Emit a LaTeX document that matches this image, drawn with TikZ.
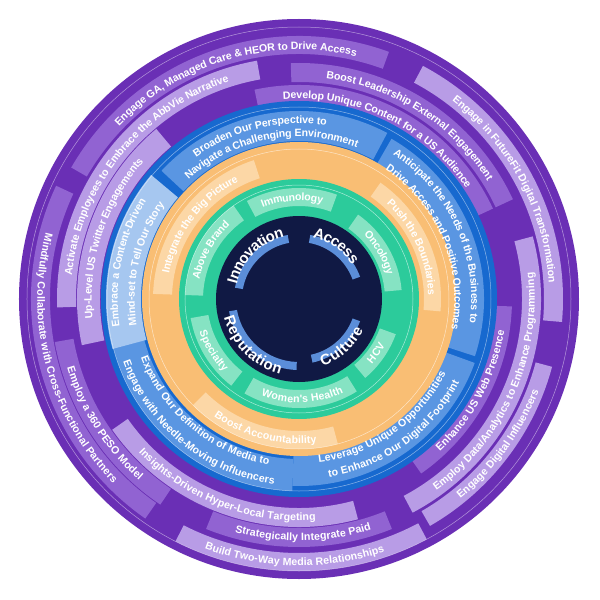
\documentclass[tikz,border=0pt]{standalone}
\usepackage{fontspec}
\newfontfamily\labf{Liberation Sans}
\usetikzlibrary{decorations.text}
\definecolor{pDark}{HTML}{6A2FB5}
\definecolor{pMid}{HTML}{9163D2}
\definecolor{pLight}{HTML}{B89CE6}
\definecolor{bDark}{HTML}{1769CF}
\definecolor{bMid}{HTML}{5A96E2}
\definecolor{bLight}{HTML}{A6C7F0}
\definecolor{oBase}{HTML}{F9BE74}
\definecolor{oLight}{HTML}{FCD7A6}
\definecolor{tBase}{HTML}{2CCB9B}
\definecolor{tLight}{HTML}{86E3C3}
\definecolor{navy}{HTML}{101944}
\definecolor{iBlue}{HTML}{5B8ED9}
\newcommand\bandarc[5]{\fill[#5] (#3:#1pt) arc[start angle=#3,end angle=#4,radius=#1pt] -- (#4:#2pt) arc[start angle=#4,end angle=#3,radius=#2pt] -- cycle;}
\newcommand\cwt[4]{\path[decorate,decoration={text along path,text align=center,raise=-3.7pt,text={|\labf\bfseries\fontsize{10.6}{10.6}\selectfont\color{white}|#4}}] ({#2+#3}:#1pt) arc[start angle={#2+#3},end angle={#2-#3},radius=#1pt];}
\newcommand\ccwt[4]{\path[decorate,decoration={text along path,text align=center,raise=-3.7pt,text={|\labf\bfseries\fontsize{10.6}{10.6}\selectfont\color{white}|#4}}] ({#2-#3}:#1pt) arc[start angle={#2-#3},end angle={#2+#3},radius=#1pt];}
\newcommand\cwbig[4]{\path[decorate,decoration={text along path,text align=center,raise=-5.2pt,text={|\labf\bfseries\fontsize{15}{15}\selectfont\color{white}|#4}}] ({#2+#3}:#1pt) arc[start angle={#2+#3},end angle={#2-#3},radius=#1pt];}
\newcommand\ccwbig[4]{\path[decorate,decoration={text along path,text align=center,raise=-5.2pt,text={|\labf\bfseries\fontsize{15}{15}\selectfont\color{white}|#4}}] ({#2-#3}:#1pt) arc[start angle={#2-#3},end angle={#2+#3},radius=#1pt];}
\begin{document}
\begin{tikzpicture}
\useasboundingbox[fill=white] (-299pt,-301pt) rectangle (301pt,299pt);
\fill[pDark] (0,0) circle[radius=280pt];
\bandarc{245}{263}{70}{150}{pMid}
\bandarc{217}{236}{25}{92}{pMid}
\bandarc{245}{264}{-5}{62}{pLight}
\bandarc{196}{214}{25}{102}{pMid}
\bandarc{223}{242}{100}{182}{pLight}
\bandarc{199}{222}{130}{192}{pLight}
\bandarc{249}{268}{155}{235}{pMid}
\bandarc{229}{248}{190}{236}{pMid}
\bandarc{209}{228}{215}{285}{pLight}
\bandarc{229}{248}{248}{292}{pMid}
\bandarc{254}{272}{243}{298}{pLight}
\bandarc{196}{213}{305}{358}{pMid}
\bandarc{223}{242}{298}{375}{pLight}
\bandarc{245}{262}{300}{345}{pLight}
\draw[white,opacity=.5,line width=.5pt] (0,0) circle[radius=272pt];
\fill[bDark] (0,0) circle[radius=198pt];
\bandarc{158}{188}{62}{137}{bMid}
\bandarc{151}{185}{-18}{60}{bMid}
\bandarc{153}{187}{268}{340}{bMid}
\bandarc{160}{192}{192}{268}{bMid}
\bandarc{158}{193}{140}{195}{bLight}
\draw[white,opacity=.5,line width=.5pt] (0,0) circle[radius=192pt];
\fill[oBase] (0,0) circle[radius=157pt];
\bandarc{127}{146}{108}{178}{oLight}
\bandarc{125}{142}{-5}{55}{oLight}
\bandarc{132}{150}{225}{285}{oLight}
\draw[white,opacity=.6,line width=.5pt] (0,0) circle[radius=150pt];
\fill[tBase] (0,0) circle[radius=120pt];
\bandarc{93}{111}{70}{118}{tLight}
\bandarc{96}{114}{125}{178}{tLight}
\bandarc{86}{103}{5}{55}{tLight}
\bandarc{86}{103}{310}{340}{tLight}
\bandarc{91}{109}{240}{302}{tLight}
\bandarc{92}{110}{190}{232}{tLight}
\draw[white,opacity=.6,line width=.5pt] (0,0) circle[radius=114pt];
\fill[navy] (0,0) circle[radius=83pt];
\bandarc{57}{65}{100}{170}{iBlue}
\bandarc{57}{65}{20}{80}{iBlue}
\bandarc{63}{71}{190}{268}{iBlue}
\bandarc{57}{65}{282}{340}{iBlue}
\cwt{253}{106.5}{42}{Engage GA, Managed Care {\&} HEOR to Drive Access}
\cwt{226}{57.5}{38}{Boost Leadership External Engagement}
\cwt{254}{28}{37}{Engage in FutureFit Digital Transformation}
\cwt{204}{64}{40}{Develop Unique Content for a US Audience}
\cwt{232}{141}{42}{Activate Employees to Embrace the AbbVie Narrative}
\cwt{211}{162}{32}{Up-Level US Twitter Engagements}
\ccwt{258}{195}{43}{Mindfully Collaborate with Cross-Functional Partners}
\ccwt{238}{212.5}{22}{Employ a 360 PESO Model}
\ccwt{218}{249}{35}{Insights-Driven Hyper-Local Targeting}
\ccwt{238}{271}{24}{Strategically Integrate Paid}
\ccwt{263}{269}{26}{Build Two-Way Media Relationships}
\ccwt{204}{332}{24}{Enhance US Web Presence}
\ccwt{232}{336}{38}{Employ Data/Analytics to Enhance Programming}
\ccwt{253}{324}{22}{Engage Digital Influencers}
\cwt{179}{103.5}{32}{Broaden Our Perspective to}
\cwt{166}{101}{40}{Navigate a Challenging Environment}
\cwt{176}{24.5}{46}{Anticipate the Needs of the Business to}
\cwt{159}{22.5}{47}{Drive Access and Positive Outcomes}
\ccwt{161}{305}{36}{Leverage Unique Opportunities}
\ccwt{177}{306}{36}{to Enhance Our Digital Footprint}
\ccwt{165}{230}{40}{Expand Our Definition of Media to}
\ccwt{183}{231}{40}{Engage with Needle-Moving Influencers}
\cwt{185}{168}{30}{Embrace a Content-Driven}
\cwt{168}{167}{32}{Mind-set to Tell Our Story}
\cwt{136}{143}{36}{Integrate the Big Picture}
\cwt{133}{24.5}{32}{Push the Boundaries}
\ccwt{141}{255.5}{32}{Boost Accountability}
\cwt{102}{94}{30}{Immunology}
\cwt{105}{151}{30}{Above Brand}
\cwt{95}{30}{30}{Oncology}
\ccwt{94}{325}{20}{HCV}
\ccwt{100}{272}{35}{Women's Health}
\ccwt{101}{211}{28}{Specialty}
\cwbig{69}{135}{48}{Innovation}
\cwbig{68}{55}{38}{Access}
\ccwbig{72}{225}{48}{Reputation}
\ccwbig{66}{312}{40}{Culture}
\end{tikzpicture}
\end{document}
